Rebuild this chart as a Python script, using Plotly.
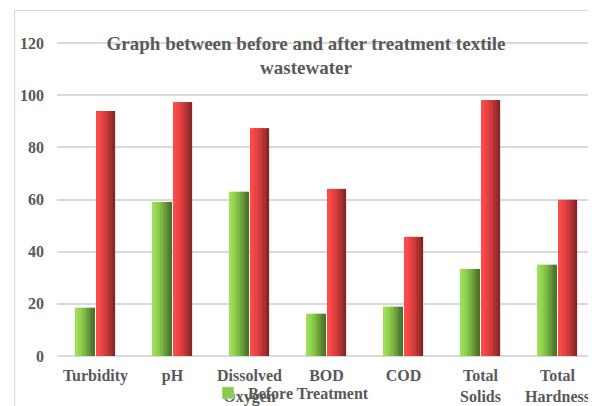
import plotly.graph_objects as go

categories = ["Turbidity", "pH", "Dissolved<br>Oxygen", "BOD", "COD", "Total<br>Solids", "Total<br>Hardness"]
before_treatment = [18.5, 59.1, 63.0, 16.2, 18.9, 33.4, 35.0]
after_treatment = [94.0, 97.4, 87.4, 64.1, 45.7, 98.2, 59.9]
y_ticks = [0, 20, 40, 60, 80, 100, 120]

# styles
FONT = "Liberation Serif, Times New Roman, serif"
TXT = "#595959"
GREEN_L, GREEN_R = (157, 224, 86), (74, 114, 40)
RED_L, RED_R = (255, 74, 74), (136, 38, 38)
N_SLICES = 14
BAR_W = 0.24

# the page adds an 8px body margin, so the figure is 8px smaller
W, H = 588, 398
ML, MR, MT, MB = 49, 0, 30, 50
PW, PH = W - ML - MR, H - MT - MB


def mix(a, b, t):
    t = t ** 1.4
    return "rgb(%d,%d,%d)" % tuple(round(a[k] + (b[k] - a[k]) * t) for k in range(3))


fig = go.Figure()


def add_series(values, name, off, cl, cr, legend):
    step = BAR_W / N_SLICES
    for i in range(N_SLICES):
        w = step * 1.35 if i < N_SLICES - 1 else step
        fig.add_trace(go.Bar(
            x=categories, y=values, name=name,
            offset=off + i * step, width=w,
            marker=dict(color=mix(cl, cr, i / (N_SLICES - 1)), line=dict(width=0)),
            showlegend=False, legendgroup=name,
        ))
    if legend:
        fig.add_trace(go.Bar(
            x=categories, y=[None] * len(categories), name=name,
            marker=dict(color="#8ACB4C"), showlegend=True, legendgroup=name,
        ))


add_series(before_treatment, "Before Treatment", -0.255, GREEN_L, GREEN_R, True)
add_series(after_treatment, "After Treatment", 0.015, RED_L, RED_R, False)

fig.update_layout(
    width=W, height=H,
    margin=dict(l=ML, r=MR, t=MT, b=MB, autoexpand=False),
    paper_bgcolor="white", plot_bgcolor="white",
    barmode="overlay",
    font=dict(family=FONT, color=TXT, size=16, weight="bold"),
    title=dict(
        text="Graph between before and after treatment textile<br>wastewater",
        x=298 / W, xref="container", xanchor="center",
        y=1 - 41.5 / H, yref="container", yanchor="middle",
        font=dict(family=FONT, size=19, color=TXT, weight="bold"),
    ),
    xaxis=dict(
        type="category", showgrid=False, showline=False, ticks="",
        ticklabelstandoff=8,
        tickfont=dict(family=FONT, size=16, color=TXT, weight="bold"),
        range=[-0.5, len(categories) - 0.5],
    ),
    yaxis=dict(
        range=[0, 122], tickvals=y_ticks, showgrid=True,
        gridcolor="#D9D9D9", gridwidth=1.5,
        zeroline=True, zerolinecolor="#D9D9D9", zerolinewidth=1.5,
        showline=False, ticks="", ticklabelstandoff=12,
        tickfont=dict(family=FONT, size=16, color=TXT, weight="bold"),
    ),
    showlegend=True,
    legend=dict(
        orientation="h", x=(200 - ML) / PW, xanchor="left",
        y=1 - 385 / H, yref="container", yanchor="middle",
        bgcolor="rgba(0,0,0,0)",
        font=dict(family=FONT, size=16, color=TXT, weight="bold"),
    ),
    shapes=[dict(
        type="rect", xref="paper", yref="paper",
        x0=(6.5 - ML) / PW, x1=1.2,
        y0=-0.3, y1=1 + (MT - 2.5) / PH,
        line=dict(color="#D9D9D9", width=1), layer="below",
    )],
)

fig.write_html("out.html")
